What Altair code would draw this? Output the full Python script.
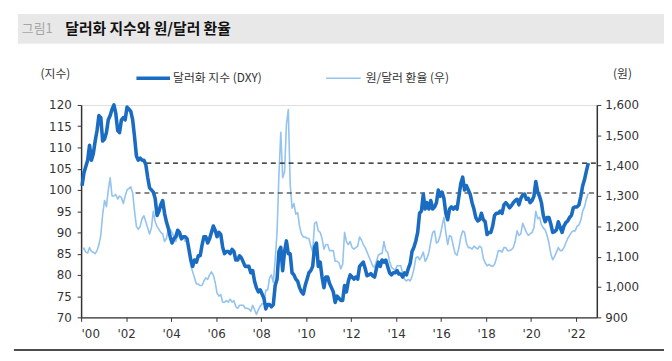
import altair as alt
import pandas as pd

# ---- data (monthly) ----
years = list(range(2000, 2023))

dxy_vals = {
    2000: [101.0, 104.0, 105.5, 107.0, 110.5, 107.0, 108.5, 111.5, 114.0, 117.5, 117.0, 111.5],
    2001: [112.0, 113.5, 116.5, 117.5, 119.0, 120.0, 118.0, 114.0, 113.5, 116.5, 117.0, 116.5],
    2002: [119.5, 119.0, 118.5, 116.5, 112.5, 108.0, 107.0, 107.5, 107.0, 107.0, 106.0, 103.0],
    2003: [100.5, 100.0, 99.5, 98.0, 94.0, 95.0, 96.5, 97.5, 94.5, 92.5, 91.0, 89.0],
    2004: [87.5, 88.5, 89.0, 90.5, 90.0, 88.5, 89.0, 89.0, 88.5, 86.0, 83.5, 82.0],
    2005: [83.5, 83.0, 84.5, 84.5, 87.0, 89.0, 89.0, 87.5, 88.5, 90.0, 91.5, 90.5],
    2006: [89.0, 90.0, 89.5, 86.5, 85.0, 85.5, 85.5, 85.0, 86.0, 85.5, 83.5, 83.5],
    2007: [84.5, 84.0, 83.0, 82.0, 82.0, 82.0, 80.5, 81.0, 78.5, 77.0, 76.0, 76.5],
    2008: [75.5, 74.5, 72.0, 73.0, 73.0, 72.5, 73.0, 77.5, 79.0, 85.5, 86.5, 81.0],
    2009: [85.5, 88.0, 85.0, 85.0, 80.5, 80.0, 79.0, 78.5, 77.0, 76.0, 75.5, 77.5],
    2010: [79.0, 80.5, 81.0, 82.0, 86.5, 87.5, 82.0, 83.0, 79.5, 77.0, 79.5, 79.5],
    2011: [78.0, 77.0, 76.0, 73.5, 75.0, 74.5, 74.0, 74.0, 77.5, 76.0, 78.5, 80.0],
    2012: [79.5, 79.0, 79.5, 79.0, 82.0, 82.5, 83.0, 81.5, 79.8, 80.0, 80.3, 79.8],
    2013: [79.5, 81.5, 83.0, 82.0, 83.5, 83.0, 83.5, 82.0, 80.5, 80.0, 80.5, 80.5],
    2014: [81.0, 80.2, 80.2, 79.5, 80.5, 80.0, 81.5, 82.7, 85.5, 86.5, 88.0, 90.0],
    2015: [94.5, 95.0, 99.0, 95.5, 97.0, 95.5, 97.5, 95.5, 96.0, 97.0, 100.0, 98.5],
    2016: [99.5, 98.0, 94.5, 93.0, 95.5, 96.0, 95.5, 96.0, 95.5, 98.5, 101.5, 103.0],
    2017: [100.0, 101.0, 100.0, 99.0, 97.0, 95.5, 93.5, 92.7, 93.0, 94.5, 93.0, 92.5],
    2018: [89.5, 90.0, 90.0, 91.5, 94.0, 94.5, 94.5, 95.0, 94.5, 96.5, 97.0, 96.5],
    2019: [95.8, 96.3, 97.0, 97.5, 97.8, 96.5, 98.0, 98.8, 99.0, 97.8, 98.0, 97.0],
    2020: [97.5, 98.5, 102.0, 99.5, 98.5, 97.0, 94.0, 92.5, 93.5, 93.5, 92.0, 90.0],
    2021: [90.2, 90.6, 92.5, 91.2, 90.0, 91.5, 92.3, 92.7, 93.5, 94.0, 95.8, 96.0],
    2022: [96.0, 96.5, 98.5, 101.0, 102.5, 104.5, 106.3],
}

krw_vals = {
    2000: [1125, 1128, 1115, 1112, 1130, 1117, 1115, 1110, 1120, 1140, 1170, 1240],
    2001: [1285, 1265, 1320, 1360, 1300, 1300, 1305, 1290, 1300, 1295, 1275, 1300],
    2002: [1320, 1325, 1330, 1310, 1250, 1200, 1190, 1200, 1225, 1235, 1215, 1195],
    2003: [1175, 1195, 1250, 1215, 1200, 1190, 1180, 1175, 1150, 1160, 1190, 1190],
    2004: [1180, 1165, 1150, 1170, 1165, 1155, 1165, 1150, 1150, 1130, 1070, 1050],
    2005: [1030, 1010, 1010, 1005, 1005, 1020, 1030, 1025, 1040, 1050, 1040, 1015],
    2006: [980, 970, 975, 950, 950, 955, 950, 960, 950, 955, 935, 930],
    2007: [940, 940, 940, 930, 930, 928, 920, 940, 925, 910, 925, 936],
    2008: [945, 945, 990, 990, 1030, 1040, 1015, 1090, 1180, 1370, 1510, 1360],
    2009: [1380, 1535, 1585, 1340, 1260, 1275, 1240, 1245, 1200, 1175, 1165, 1165],
    2010: [1160, 1160, 1135, 1115, 1210, 1215, 1185, 1180, 1160, 1125, 1140, 1140],
    2011: [1120, 1120, 1120, 1085, 1085, 1080, 1060, 1075, 1180, 1150, 1140, 1150],
    2012: [1130, 1125, 1130, 1135, 1165, 1155, 1140, 1130, 1115, 1100, 1085, 1070],
    2013: [1065, 1085, 1105, 1110, 1110, 1150, 1120, 1115, 1085, 1065, 1060, 1055],
    2014: [1070, 1070, 1070, 1045, 1025, 1020, 1025, 1020, 1035, 1060, 1095, 1100],
    2015: [1090, 1100, 1115, 1085, 1095, 1115, 1150, 1180, 1185, 1145, 1150, 1170],
    2016: [1200, 1230, 1180, 1140, 1170, 1165, 1135, 1110, 1105, 1130, 1165, 1185],
    2017: [1180, 1145, 1130, 1130, 1125, 1135, 1130, 1125, 1135, 1130, 1095, 1080],
    2018: [1070, 1075, 1070, 1068, 1075, 1095, 1120, 1120, 1115, 1130, 1130, 1120],
    2019: [1120, 1123, 1130, 1150, 1185, 1170, 1175, 1210, 1195, 1180, 1170, 1175],
    2020: [1180, 1195, 1250, 1225, 1230, 1205, 1195, 1188, 1170, 1145, 1110, 1090],
    2021: [1100, 1115, 1130, 1120, 1120, 1130, 1145, 1160, 1170, 1180, 1185, 1185],
    2022: [1200, 1205, 1220, 1250, 1265, 1290, 1308],
}

# dashed reference levels: current DXY (left axis) and current KRW (right axis)
dxy_ref_level = [106.3]
dxy_ref_start = [2002.9]
krw_ref_level = [1310]
krw_ref_start = [2002.42]
ref_end = [2022.92]

x_ticks = list(range(2000, 2023, 2))
left_ticks = list(range(70, 121, 5))
right_ticks = list(range(900, 1601, 100))

# ---- build tables ----
rows = []
for y in years:
    for m, v in enumerate(dxy_vals[y]):
        rows.append({"t": y + (m + 0.5) / 12, "dxy": v})
dxy_df = pd.DataFrame(rows)

rows = []
for y in years:
    for m, v in enumerate(krw_vals[y]):
        rows.append({"t": y + (m + 0.5) / 12, "krw": v})
krw_df = pd.DataFrame(rows)

dxy_ref_df = pd.DataFrame({"dxy": dxy_ref_level, "start": dxy_ref_start, "end": ref_end})
krw_ref_df = pd.DataFrame({"krw": krw_ref_level, "start": krw_ref_start, "end": ref_end})
one = pd.DataFrame({"a": [0]})

DARK = "#1a6bc2"
LIGHT = "#93c3ee"
AXIS_COLOR = "#333333"
NUM_FONT = "DejaVu Sans"
KR_FONT = "Noto Sans CJK KR"

x_scale = alt.Scale(domain=[2000, 2022.92], nice=False, zero=False)
x_axis = alt.Axis(
    values=x_ticks,
    labelExpr="\"'\" + slice(toString(datum.value), 2)",
    title=None,
    grid=False,
    tickSize=4,
    labelPadding=7,
    domainColor=AXIS_COLOR,
    tickColor=AXIS_COLOR,
    domainWidth=1.5,
    labelFont=NUM_FONT,
    labelFontSize=12,
    labelColor="#333333",
)

right_axis = alt.Axis(
    orient="right",
    values=right_ticks,
    labelExpr="format(datum.value, ',.0f')",
    title=None,
    grid=False,
    tickSize=4,
    labelPadding=4,
    domainColor=AXIS_COLOR,
    tickColor=AXIS_COLOR,
    domainWidth=1.5,
    labelFont=NUM_FONT,
    labelFontSize=12,
    labelColor="#333333",
)
right_scale = alt.Scale(domain=[900, 1600], nice=False, zero=False)

left_axis = alt.Axis(
    orient="left",
    values=left_ticks,
    title=None,
    grid=False,
    tickSize=4,
    labelPadding=6,
    domainColor=AXIS_COLOR,
    tickColor=AXIS_COLOR,
    domainWidth=1.5,
    labelFont=NUM_FONT,
    labelFontSize=12,
    labelColor="#333333",
)
left_scale = alt.Scale(domain=[70, 120], nice=False, zero=False)

krw_line = alt.Chart(krw_df).mark_line(color=LIGHT, strokeWidth=1.6, strokeJoin="round").encode(
    x=alt.X("t:Q", scale=x_scale, axis=x_axis),
    y=alt.Y("krw:Q", scale=right_scale, axis=right_axis),
)
krw_rule = alt.Chart(krw_ref_df).mark_rule(color="#111111", strokeWidth=1.2, strokeDash=[5, 4]).encode(
    x=alt.X("start:Q", scale=x_scale, axis=x_axis),
    x2="end:Q",
    y=alt.Y("krw:Q", scale=right_scale, axis=right_axis),
)
right_group = alt.layer(krw_line, krw_rule)

dxy_rule = alt.Chart(dxy_ref_df).mark_rule(color="#111111", strokeWidth=1.2, strokeDash=[5, 4]).encode(
    x=alt.X("start:Q", scale=x_scale, axis=x_axis),
    x2="end:Q",
    y=alt.Y("dxy:Q", scale=left_scale, axis=left_axis),
)
dxy_line = alt.Chart(dxy_df).mark_line(color=DARK, strokeWidth=3.6, strokeJoin="round").encode(
    x=alt.X("t:Q", scale=x_scale, axis=x_axis),
    y=alt.Y("dxy:Q", scale=left_scale, axis=left_axis),
)
left_group = alt.layer(dxy_rule, dxy_line)

# ---- decorations: title bar, legend, unit labels, bottom rule ----
title_bg = alt.Chart(one).mark_rect(color="#e8e8e8").encode(
    x=alt.value(-64), x2=alt.value(590), y=alt.value(-92), y2=alt.value(-62)
)
title_num = alt.Chart(one).mark_text(
    text="그림1", font=KR_FONT, fontSize=13, color="#a6a6a6", align="left", baseline="middle"
).encode(x=alt.value(-60), y=alt.value(-77))
title_txt = alt.Chart(one).mark_text(
    text="달러화 지수와 원/달러 환율", font=KR_FONT, fontSize=15, fontWeight="bold",
    color="#111111", align="left", baseline="middle"
).encode(x=alt.value(-16), y=alt.value(-77))

unit_left = alt.Chart(one).mark_text(
    text="(지수)", font=KR_FONT, fontSize=12, color="#333333", align="center", baseline="middle"
).encode(x=alt.value(-26), y=alt.value(-31))
unit_right = alt.Chart(one).mark_text(
    text="(원)", font=KR_FONT, fontSize=12, color="#333333", align="center", baseline="middle"
).encode(x=alt.value(548), y=alt.value(-31))

leg1_line = alt.Chart(one).mark_rule(color=DARK, strokeWidth=3.6).encode(
    x=alt.value(56), x2=alt.value(90), y=alt.value(-27)
)
leg1_txt = alt.Chart(one).mark_text(
    text="달러화 지수 (DXY)", font=KR_FONT, fontSize=12, color="#333333", align="left", baseline="middle"
).encode(x=alt.value(93), y=alt.value(-27))
leg2_line = alt.Chart(one).mark_rule(color=LIGHT, strokeWidth=1.6).encode(
    x=alt.value(248), x2=alt.value(283), y=alt.value(-27)
)
leg2_txt = alt.Chart(one).mark_text(
    text="원/달러 환율 (우)", font=KR_FONT, fontSize=12, color="#333333", align="left", baseline="middle"
).encode(x=alt.value(288), y=alt.value(-27))

bottom_rule = alt.Chart(one).mark_rule(color="#111111", strokeWidth=1.5).encode(
    x=alt.value(-68), x2=alt.value(590), y=alt.value(248)
)

chart = alt.layer(
    title_bg, title_num, title_txt, unit_left, unit_right,
    leg1_line, leg1_txt, leg2_line, leg2_txt, bottom_rule,
    right_group, left_group,
).resolve_scale(y="independent").properties(
    width=522,
    height=215,
    autosize=alt.AutoSizeParams(type="none"),
    padding={"left": 74, "top": 96, "right": 68, "bottom": 42},
).configure_view(stroke=None).configure(background="white")

chart.save("out.html", embed_options={"renderer": "svg", "actions": False})
